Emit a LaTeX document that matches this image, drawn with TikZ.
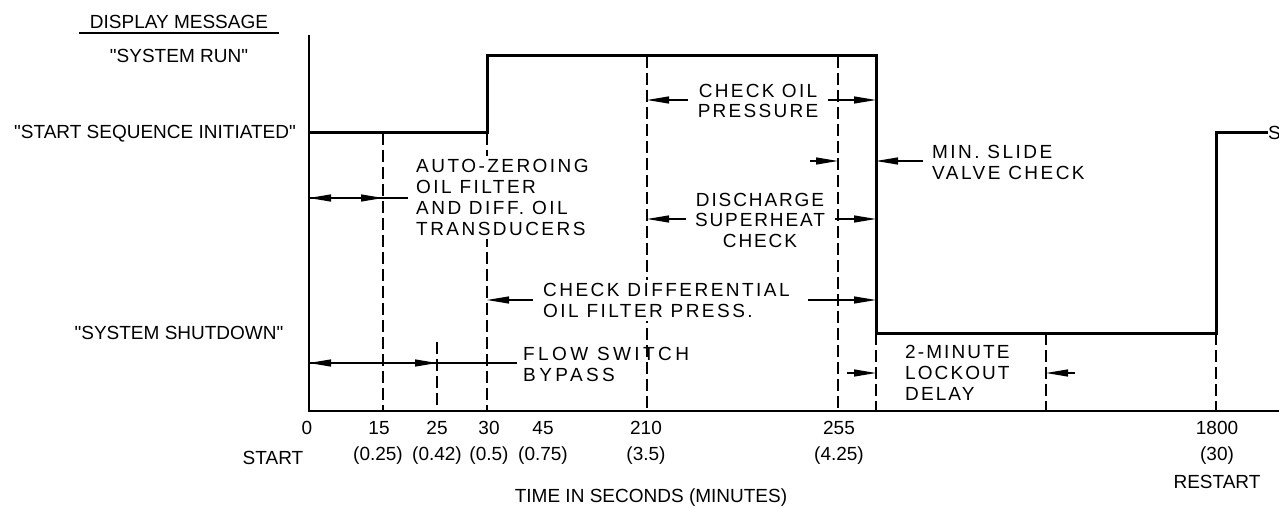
\documentclass[tikz,border=0pt]{standalone}
\usepackage{fontspec}
\setmainfont{Liberation Sans}[Ligatures=TeXOff]
\usetikzlibrary{arrows.meta}
\begin{document}
\begin{tikzpicture}[x=1pt,y=-1pt,
  lbl/.style={inner sep=0pt, font=\fontsize{19}{21}\selectfont},
  wl/.style={inner sep=0pt, align=left, font=\fontsize{19}{21}\selectfont\addfontfeatures{LetterSpace=#1}},
  wc/.style={inner sep=0pt, align=center, font=\fontsize{19}{20.5}\selectfont\addfontfeatures{LetterSpace=#1}},
  axisline/.style={line width=1.3pt},
  thinline/.style={line width=1.2pt},
  dashline/.style={line width=1.2pt, dash pattern=on 12pt off 5pt},
  wave/.style={line width=3pt, line join=miter},
  arr/.style={line width=1.2pt, -{Triangle[length=22pt,width=7pt]}},
]
\useasboundingbox (0,0) rectangle (1279,508);

% axis coordinates
\coordinate (Ytop) at (309,35);
\coordinate (t0) at (309,411);
\coordinate (t15) at (383,411);
\coordinate (t25) at (437,411);
\coordinate (t30) at (487,411);
\coordinate (t210) at (647,411);
\coordinate (t255) at (838,411);
\coordinate (tA) at (876,411);
\coordinate (tB) at (1046,411);
\coordinate (t1800) at (1216,411);
\coordinate (Xend) at (1279,411);

% waveform corners
\coordinate (w0) at (309,133);
\coordinate (w1) at (487,133);
\coordinate (w2) at (487,56);
\coordinate (w3) at (876,56);
\coordinate (w4) at (876,333);
\coordinate (w5) at (1216,333);
\coordinate (w6) at (1216,133);
\coordinate (w7) at (1268,133);
\coordinate (d25) at (437,342);

% dashed time marks
\draw[dashline] (t15 |- w0) -- (t15);
\draw[dashline] (d25) -- (t25);
\draw[dashline] (w1) -- (t30);
\draw[dashline] (t210 |- w2) -- (t210);
\draw[dashline] (t255 |- w2) -- (t255);
\draw[dashline] (w4) -- (tA);
\draw[dashline] (tB |- w4) -- (tB);
\draw[dashline] (w5) -- (t1800);

% axes
\draw[axisline] (Ytop) -- (t0) -- (Xend);

% left header labels
\node[lbl] (hdr) at (179,21.5) {DISPLAY MESSAGE};
\coordinate (ulL) at (79,33);
\coordinate (ulR) at (279,33);
\draw[thinline] (ulL) -- (ulR);
\node[lbl] (lrun) at (179,56) {"SYSTEM RUN"};
\node[lbl, anchor=east] (lstart) at (296,134) {"START SEQUENCE INITIATED"};
\node[lbl] (lshut) at (179,333) {"SYSTEM SHUTDOWN"};

% AUTO-ZEROING
\node[wl=13, anchor=west, fill=white, inner sep=3pt] (az) at (413,197.5) {AUTO-ZEROING\\OIL FILTER\\AND DIFF. OIL\\TRANSDUCERS};
\coordinate (azE) at (408,198);
\coordinate (azA) at (335,198);
\coordinate (azB) at (355,198);
\draw[thinline] (azE) -- (t0 |- azE);
\draw[arr] (azA) -- (t0 |- azA);
\draw[arr] (azB) -- (t15 |- azB);

% CHECK OIL PRESSURE
\node[wc=12] (cop) at (758,101) {CHECK OIL\\PRESSURE};
\coordinate (copL) at (688,100);
\coordinate (copR) at (828,100);
\draw[arr] (copL) -- (t210 |- copL);
\draw[arr] (copR) -- (tA |- copR);

% MIN. SLIDE VALVE CHECK
\coordinate (msL) at (810,161);
\coordinate (msR) at (923,161);
\draw[arr] (msL) -- (t255 |- msL);
\draw[arr] (msR) -- (tA |- msR);
\node[wl=13, anchor=west] (ms) at (932,162) {MIN. SLIDE\\VALVE CHECK};

% DISCHARGE SUPERHEAT CHECK
\node[wc=10] (dsc) at (760,220) {DISCHARGE\\SUPERHEAT\\CHECK};
\coordinate (dsL) at (686,219);
\coordinate (dsR) at (835,219);
\draw[arr] (dsL) -- (t210 |- dsL);
\draw[arr] (dsR) -- (tA |- dsR);

% CHECK DIFFERENTIAL OIL FILTER PRESS.
\node[wl=13, anchor=west, fill=white, inner sep=3pt] (cdf) at (540,300.5) {CHECK DIFFERENTIAL\\OIL FILTER PRESS.};
\coordinate (cdL) at (533,300);
\coordinate (cdR) at (808,300);
\draw[arr] (cdL) -- (t30 |- cdL);
\draw[arr] (cdR) -- (tA |- cdR);

% FLOW SWITCH BYPASS
\node[wl=18, anchor=west] (fsb) at (523,364) {FLOW SWITCH\\BYPASS};
\coordinate (fsE) at (517,363);
\coordinate (fsA) at (335,363);
\coordinate (fsB) at (405,363);
\draw[thinline] (fsE) -- (t0 |- fsE);
\draw[arr] (fsA) -- (t0 |- fsA);
\draw[arr] (fsB) -- (t25 |- fsB);

% 2-MINUTE LOCKOUT DELAY
\node[wl=11, anchor=west] (lod) at (905,372.5) {2-MINUTE\\LOCKOUT\\DELAY};
\coordinate (loL) at (847,373);
\coordinate (loR) at (1075,373);
\draw[arr] (loL) -- (tA |- loL);
\draw[arr] (loR) -- (tB |- loR);

% waveform
\draw[wave] (w0) -- (w1) -- (w2) -- (w3) -- (w4) -- (w5) -- (w6) -- (w7);
\node[lbl, anchor=west] (scut) at (1268,133) {S};

% time labels
\node[lbl] (n0) at (307,428) {0};
\node[lbl] (n15) at (379,428) {15};
\node[lbl] (n25) at (437,428) {25};
\node[lbl] (n30) at (489,428) {30};
\node[lbl] (n45) at (543,428) {45};
\node[lbl] (n210) at (646,428) {210};
\node[lbl] (n255) at (839,428) {255};
\node[lbl] (n1800) at (1217,428) {1800};

\node[lbl] (mstart) at (273,458) {START};
\node[lbl] (m15) at (378,456) {(0.25)};
\node[lbl] (m25) at (437,456) {(0.42)};
\node[lbl] (m30) at (489,456) {(0.5)};
\node[lbl] (m45) at (543,456) {(0.75)};
\node[lbl] (m210) at (646,456) {(3.5)};
\node[lbl] (m255) at (839,456) {(4.25)};
\node[lbl] (m1800) at (1217,456) {(30)};
\node[lbl] (restart) at (1217,482) {RESTART};
\node[lbl] (title) at (651,498) {TIME IN SECONDS (MINUTES)};
\end{tikzpicture}
\end{document}
